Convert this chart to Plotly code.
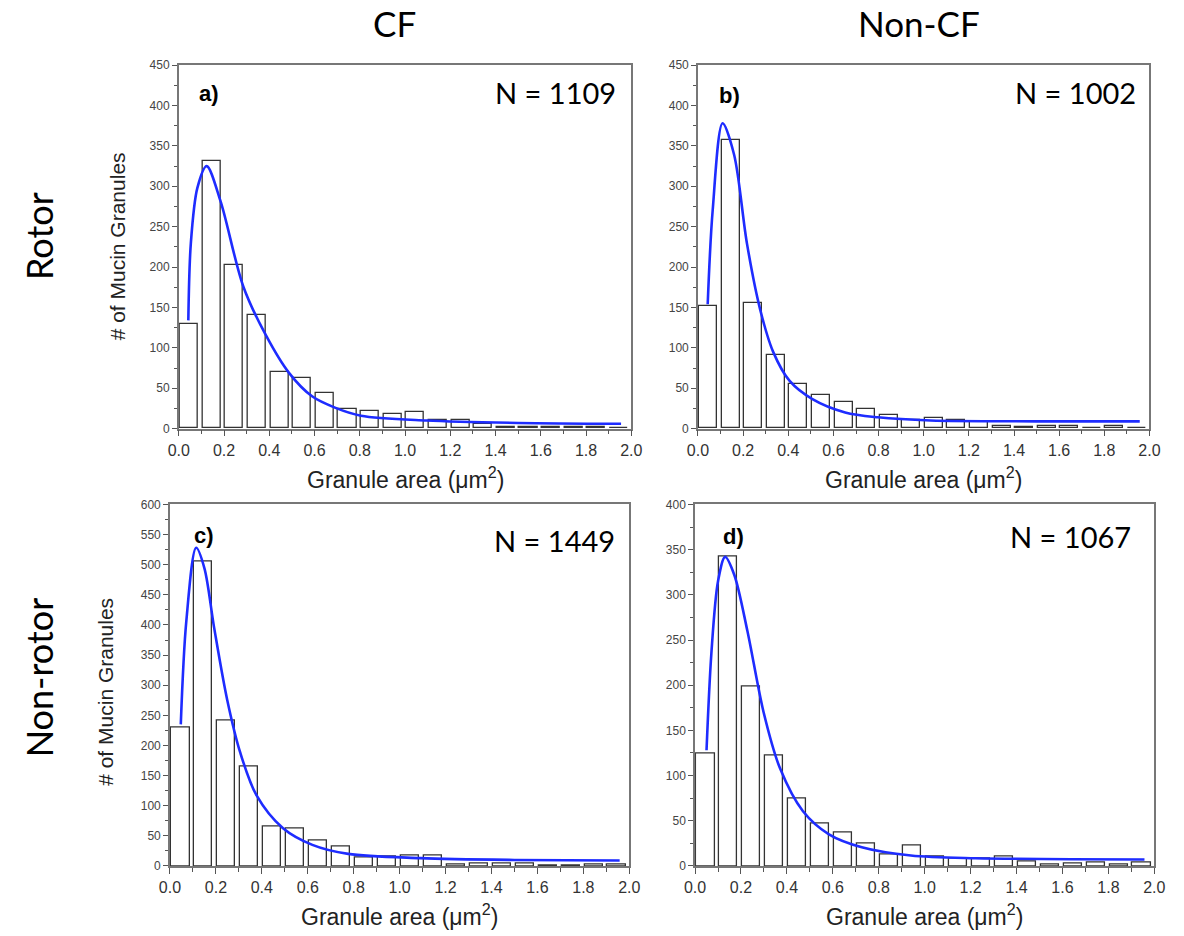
import plotly.graph_objects as go

# ---------------- data ----------------
bin_left = [round(0.1 * k, 1) for k in range(20)]  # histogram bins 0.0 .. 1.9 (width 0.1)

counts_a = [129, 331, 202, 140, 70, 63, 44, 24, 22, 18, 21, 10, 10, 6, 2, 2, 2, 2, 2, 0]
counts_b = [152, 357, 155, 91, 55, 41, 33, 24, 17, 10, 13, 10, 8, 3, 2, 3, 3, 1, 3, 0]
counts_c = [230, 506, 241, 165, 65, 62, 42, 32, 14, 15, 18, 17, 3, 5, 4, 4, 1, 1, 2, 2]
counts_d = [125, 342, 199, 122, 75, 47, 37, 25, 13, 23, 10, 8, 8, 11, 5, 2, 3, 4, 2, 4]

fit_x_a = [0.042, 0.053, 0.082, 0.123, 0.184, 0.285, 0.386, 0.487, 0.589, 0.69, 0.805, 1.095, 1.5, 1.955]
fit_y_a = [134, 229, 298, 325, 282, 176, 115, 69, 40, 26, 16, 10, 7, 6]
fit_x_b = [0.043, 0.065, 0.109, 0.16, 0.217, 0.275, 0.333, 0.406, 0.507, 0.652, 0.797, 1.03, 1.5, 1.957]
fit_y_b = [154, 270, 378, 339, 229, 148, 95, 59, 36.5, 20, 14, 10, 9, 9]
fit_x_c = [0.047, 0.071, 0.114, 0.15, 0.192, 0.249, 0.306, 0.377, 0.491, 0.62, 0.776, 1.09, 1.5, 1.958]
fit_y_c = [235, 406, 528, 494, 396, 276, 188, 117, 63, 35, 20, 13, 10, 9]
fit_x_d = [0.05, 0.071, 0.1, 0.131, 0.171, 0.228, 0.299, 0.37, 0.47, 0.583, 0.726, 0.94, 1.22, 1.957]
fit_y_d = [128, 235, 315, 342, 322, 260, 169.5, 108, 60.5, 35, 20.7, 11.6, 8.6, 7.2]

panel_letters = ["a)", "b)", "c)", "d)"]
panel_N = ["N = 1109", "N = 1002", "N = 1449", "N = 1067"]
y_max = [450, 450, 600, 400]
col_titles = ["CF", "Non-CF"]
row_titles = ["Rotor", "Non-rotor"]
x_title = "Granule area (\u03bcm<sup>2</sup>)"
y_title = "# of Mucin Granules"

# ---------------- layout geometry (pixels) ----------------
W, H = 1184, 936


def px(x):
    return x / W


def py(y):
    return 1 - y / H


boxes = [(171, 632, 59, 428), (700, 1160, 59, 428), (162, 630, 505, 872), (697, 1165, 505, 872)]
letter_pos = [(0.04, 0.921), (0.043, 0.917), (0.049, 0.914), (0.056, 0.91)]
n_pos = [(0.97, 0.924), (0.974, 0.924), (0.974, 0.9), (0.953, 0.91)]

counts = [counts_a, counts_b, counts_c, counts_d]
fits = [(fit_x_a, fit_y_a), (fit_x_b, fit_y_b), (fit_x_c, fit_y_c), (fit_x_d, fit_y_d)]

fig = go.Figure()
annotations = []
tick_font = dict(family="Liberation Sans, Arial", size=12, color="#444")

for i in range(4):
    sfx = "" if i == 0 else str(i + 1)
    xa, ya = "x" + sfx, "y" + sfx
    fig.add_trace(go.Bar(
        x=[b + 0.045 for b in bin_left], y=counts[i], width=0.08,
        marker=dict(color="white", line=dict(color="#333", width=1.3)),
        xaxis=xa, yaxis=ya, showlegend=False))
    fig.add_trace(go.Scatter(
        x=fits[i][0], y=fits[i][1], mode="lines",
        line=dict(color="#1e2cff", width=2.6, shape="spline", smoothing=0.9),
        xaxis=xa, yaxis=ya, showlegend=False))
    x0, x1, y0, y1 = boxes[i]
    common = dict(showline=True, linecolor="#777", linewidth=1.6, mirror=True,
                  showgrid=False, zeroline=False, ticks="outside", tickcolor="#555",
                  tickwidth=1.2, fixedrange=True)
    fig.layout["xaxis" + sfx] = dict(
        common, domain=[px(x0), px(x1)], range=[0, 2], dtick=0.2, tick0=0,
        tickformat=".1f", ticklen=6,
        minor=dict(dtick=0.1, tick0=0, ticklen=4, ticks="outside", tickcolor="#555"),
        tickfont=dict(family="Liberation Sans, Arial", size=16, color="#333"),
        anchor=ya)
    fig.layout["yaxis" + sfx] = dict(
        common, domain=[py(y1), py(y0)], range=[0, y_max[i]], dtick=50, tick0=0,
        ticklen=5,
        minor=dict(dtick=25, tick0=0, ticklen=3, ticks="outside", tickcolor="#555"),
        tickfont=tick_font, anchor=xa)
    xd, yd = xa + " domain", ya + " domain"
    annotations.append(dict(text="<b>" + panel_letters[i] + "</b>", xref=xd, yref=yd,
                            x=letter_pos[i][0], y=letter_pos[i][1], xanchor="left", yanchor="middle",
                            showarrow=False, font=dict(family="Liberation Sans, Arial", size=22, color="black")))
    annotations.append(dict(text=panel_N[i], xref=xd, yref=yd,
                            x=n_pos[i][0], y=n_pos[i][1], xanchor="right", yanchor="middle",
                            showarrow=False, font=dict(family="Lato", size=29, color="black")))
    # x-axis title
    annotations.append(dict(text=x_title, xref="paper", yref="paper",
                            x=px((x0 + x1) / 2), y=py(y1 + 50), xanchor="center", yanchor="middle",
                            showarrow=False, font=dict(family="Liberation Sans, Arial", size=23, color="#222")))

# y-axis titles (left column only)
for yc, xc in [(243, 108), (695, 96)]:
    annotations.append(dict(text=y_title, xref="paper", yref="paper", x=px(xc), y=py(yc),
                            xanchor="center", yanchor="middle", textangle=-90, showarrow=False,
                            font=dict(family="Liberation Sans, Arial", size=21, color="#222")))

# column titles
for t, xc in zip(col_titles, [391, 925]):
    annotations.append(dict(text=t, xref="paper", yref="paper", x=px(xc), y=py(16),
                            xanchor="center", yanchor="middle", showarrow=False,
                            font=dict(family="Lato", size=35, color="black")))
# row titles
for t, yc in zip(row_titles, [232, 680]):
    annotations.append(dict(text=t, xref="paper", yref="paper", x=px(28), y=py(yc),
                            xanchor="center", yanchor="middle", textangle=-90, showarrow=False,
                            font=dict(family="Lato", size=36, color="black")))

fig.update_layout(width=W, height=H, margin=dict(l=0, r=0, t=0, b=0),
                  paper_bgcolor="white", plot_bgcolor="white", bargap=0,
                  annotations=annotations, showlegend=False)

fig.write_html("out.html", config={"displayModeBar": False},
               post_script="document.body.style.margin='0';document.body.style.overflow='hidden';")
